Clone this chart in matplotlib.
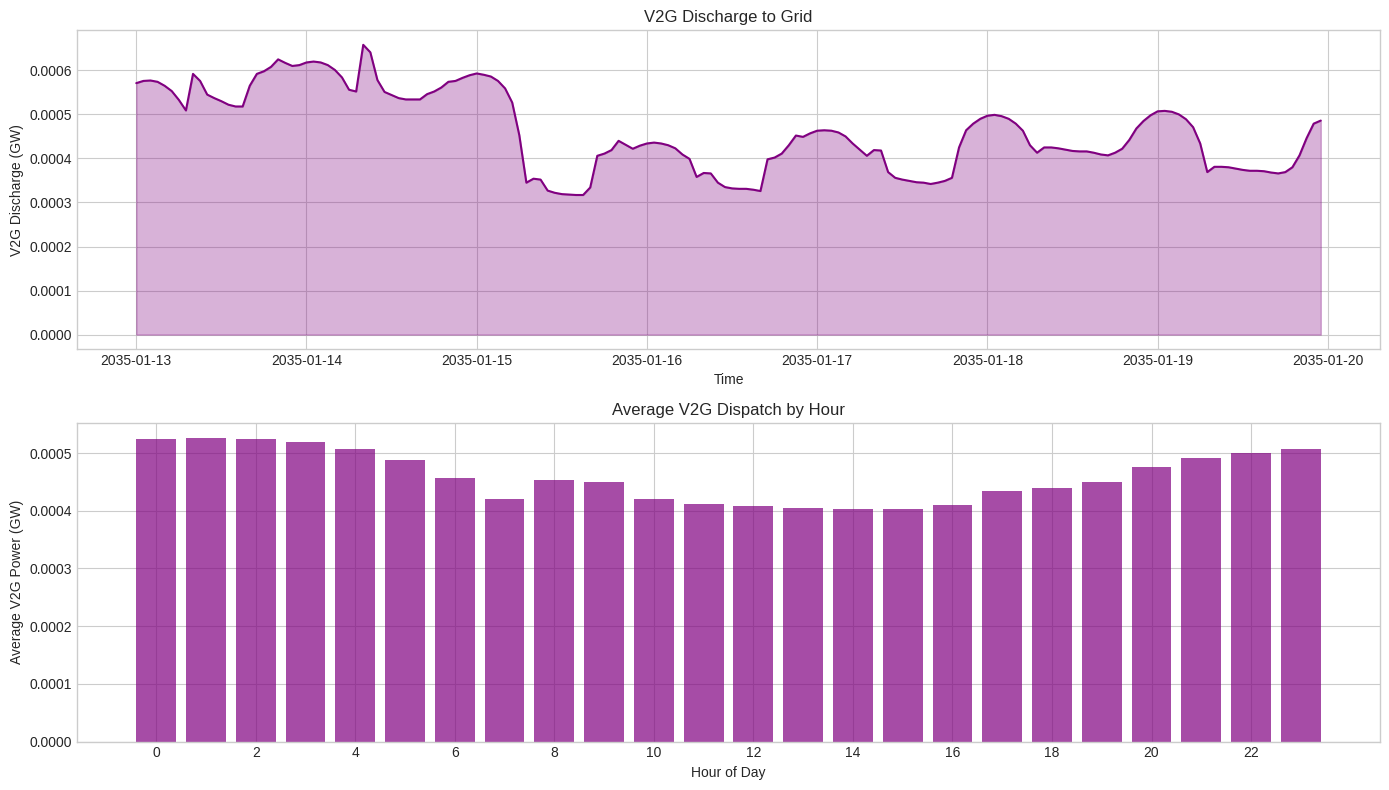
import matplotlib
matplotlib.use("Agg")
import matplotlib.pyplot as plt
import matplotlib.dates as mdates
from matplotlib.ticker import FormatStrFormatter
import numpy as np
import pandas as pd

# ---- Data ----
start = "2035-01-13 00:00"
day13 = [0.000571, 0.000576, 0.000577, 0.000574, 0.000565, 0.000553, 0.000533, 0.000509,
         0.000592, 0.000576, 0.000545, 0.000537, 0.000530, 0.000522, 0.000518, 0.000518,
         0.000565, 0.000592, 0.000598, 0.000608, 0.000625, 0.000617, 0.000610, 0.000612]
day14 = [0.000618, 0.000620, 0.000618, 0.000612, 0.000601, 0.000584, 0.000556, 0.000552,
         0.000658, 0.000641, 0.000578, 0.000551, 0.000544, 0.000537, 0.000534, 0.000534,
         0.000534, 0.000546, 0.000552, 0.000561, 0.000574, 0.000576, 0.000583, 0.000589]
day15 = [0.000593, 0.000590, 0.000586, 0.000576, 0.000559, 0.000527, 0.000453, 0.000345,
         0.000354, 0.000352, 0.000327, 0.000322, 0.000319, 0.000318, 0.000317, 0.000317,
         0.000334, 0.000406, 0.000411, 0.000419, 0.000440, 0.000431, 0.000422, 0.000429]
day16 = [0.000434, 0.000436, 0.000434, 0.000430, 0.000423, 0.000409, 0.000399, 0.000358,
         0.000367, 0.000366, 0.000345, 0.000335, 0.000332, 0.000331, 0.000331, 0.000329,
         0.000326, 0.000398, 0.000402, 0.000411, 0.000430, 0.000452, 0.000449, 0.000457]
day17 = [0.000463, 0.000464, 0.000463, 0.000459, 0.000450, 0.000434, 0.000420, 0.000406,
         0.000419, 0.000418, 0.000369, 0.000356, 0.000352, 0.000349, 0.000346, 0.000345,
         0.000342, 0.000345, 0.000349, 0.000356, 0.000425, 0.000464, 0.000479, 0.000490]
day18 = [0.000497, 0.000499, 0.000496, 0.000490, 0.000479, 0.000463, 0.000430, 0.000413,
         0.000425, 0.000425, 0.000423, 0.000420, 0.000417, 0.000416, 0.000416, 0.000413,
         0.000409, 0.000407, 0.000413, 0.000422, 0.000442, 0.000468, 0.000485, 0.000498]
day19 = [0.000507, 0.000508, 0.000506, 0.000500, 0.000489, 0.000471, 0.000434, 0.000369,
         0.000381, 0.000381, 0.000380, 0.000377, 0.000374, 0.000372, 0.000372, 0.000371,
         0.000368, 0.000366, 0.000369, 0.000380, 0.000407, 0.000446, 0.000479, 0.000486]

v2g_discharge = day13 + day14 + day15 + day16 + day17 + day18 + day19
times = pd.date_range(start, periods=len(v2g_discharge), freq="h")

hours = list(range(24))
hourly_avg = [0.000524, 0.000526, 0.000524, 0.000519, 0.000507, 0.000488, 0.000457, 0.000420,
              0.000454, 0.000449, 0.000421, 0.000411, 0.000408, 0.000404, 0.000403, 0.000403,
              0.000410, 0.000435, 0.000440, 0.000449, 0.000476, 0.000491, 0.000500, 0.000507]

# ---- Plot ----
plt.style.use("seaborn-v0_8-whitegrid")
fig, (ax1, ax2) = plt.subplots(2, 1, figsize=(14, 8), dpi=100)

ax1.plot(times, v2g_discharge, color="purple", linewidth=1.5)
ax1.fill_between(times, v2g_discharge, 0, color="purple", alpha=0.3)
ax1.set_title("V2G Discharge to Grid")
ax1.set_xlabel("Time")
ax1.set_ylabel("V2G Discharge (GW)")
ax1.xaxis.set_major_locator(mdates.DayLocator())
ax1.xaxis.set_major_formatter(mdates.DateFormatter("%Y-%m-%d"))
ax1.yaxis.set_major_formatter(FormatStrFormatter("%.4f"))

ax2.bar(hours, hourly_avg, color="purple", alpha=0.7)
ax2.set_title("Average V2G Dispatch by Hour")
ax2.set_xlabel("Hour of Day")
ax2.set_ylabel("Average V2G Power (GW)")
ax2.set_xticks(range(0, 24, 2))
ax2.yaxis.set_major_formatter(FormatStrFormatter("%.4f"))

fig.tight_layout()
fig.savefig("out.png", dpi=100, bbox_inches="tight")
